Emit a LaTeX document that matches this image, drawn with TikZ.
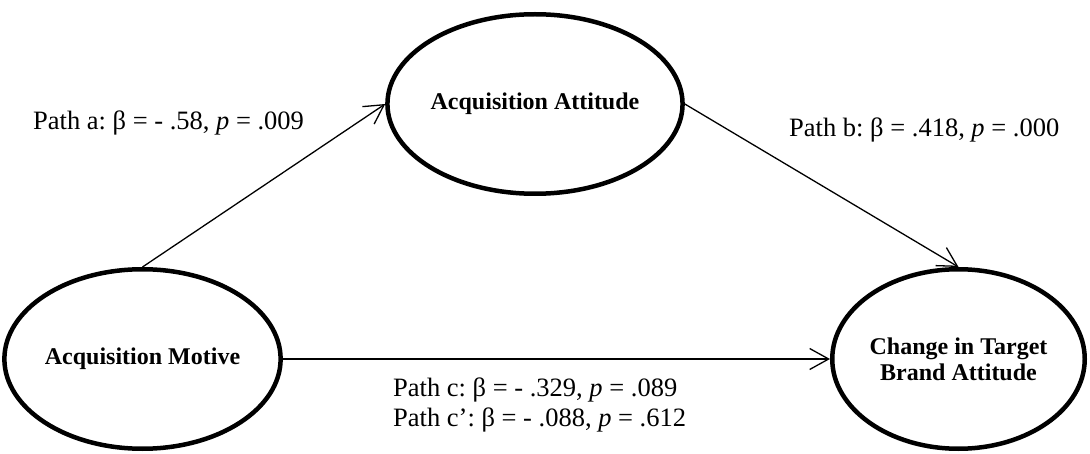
\documentclass[tikz,border=0pt]{standalone}
\usepackage{fontspec}
\setmainfont{Liberation Serif}
\usetikzlibrary{shapes.geometric,arrows.meta}
\frenchspacing
\begin{document}
\begin{tikzpicture}[x=1pt,y=1pt,
  construct/.style={ellipse,draw,line width=4.5pt,inner sep=0pt,align=center,
    font=\fontsize{24}{26}\selectfont\bfseries},
  path arrow/.style={line width=1.3pt,-{Straight Barb[length=19pt,width=21pt,line width=1.3pt]}},
  pathlabel/.style={anchor=base west,inner sep=0pt,font=\fontsize{26.5}{30}\selectfont}]
\useasboundingbox (0,0) rectangle (1090,453);
\node[construct,minimum width=260.5pt,minimum height=179.5pt] (am) at (142.5,94) {Acquisition Motive};
\node[construct,minimum width=255.5pt,minimum height=179.5pt] (aa) at (535,349) {Acquisition Attitude};
\node[construct,minimum width=252.5pt,minimum height=179.5pt] (cb) at (958.5,94) {Change in Target\\Brand Attitude};
\draw[path arrow] (am.north) -- (aa.west);
\draw[path arrow] (aa.east) -- (cb.north);
\draw[path arrow] (am.east) -- (cb.west);
\node[pathlabel] (la) at (33,323) {Path a: β = - .58, \textit{p} = .009};
\node[pathlabel] (lb) at (789,316) {Path b: β = .418, \textit{p} = .000};
\node[pathlabel] (lc) at (393,57) {Path c: β = - .329, \textit{p} = .089};
\node[pathlabel] (lc2) at (393,27) {Path c’: β = - .088, \textit{p} = .612};
\end{tikzpicture}
\end{document}
